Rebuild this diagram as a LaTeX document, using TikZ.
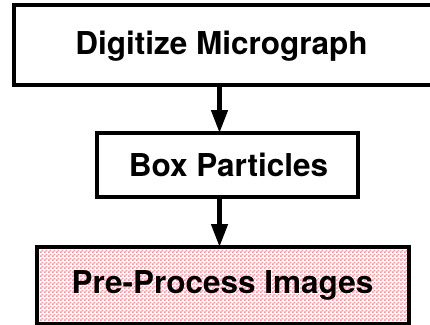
\documentclass[tikz,border=0pt]{standalone}
\usepackage{fontspec}
\setmainfont{TeX Gyre Heros}
\usetikzlibrary{arrows.meta,patterns}
\pgfdeclarepatternformonly{finechecks}{\pgfpointorigin}{\pgfqpoint{4pt}{4pt}}{\pgfqpoint{4pt}{4pt}}{%
  \pgfpathrectangle{\pgfpointorigin}{\pgfqpoint{2pt}{2pt}}%
  \pgfpathrectangle{\pgfqpoint{2pt}{2pt}}{\pgfqpoint{2pt}{2pt}}%
  \pgfusepath{fill}}
\definecolor{checkpink}{RGB}{255,145,155}
\tikzset{
  stagebox/.style={draw=black, line width=4pt, inner sep=0pt, outer sep=0pt},
  stagetext/.style={font=\fontsize{31.5}{36}\bfseries\selectfont, inner sep=0pt},
  flowarrow/.style={draw=black, line width=4.5pt, -{Triangle[width=16pt,length=23pt]}},
}
\begin{document}
\begin{tikzpicture}[x=1pt,y=-1pt]
\useasboundingbox (0,0) rectangle (430,324);
\clip (0,0) rectangle (430,324);
% box 1 (right side runs off the picture)
\node[stagebox, minimum width=426pt, minimum height=80pt] (b1) at (227,45) {};
\node[stagetext] (t1) at (221.5,46) {Digitize Micrograph};
% box 2
\node[stagebox, minimum width=261pt, minimum height=64pt] (b2) at (227.5,165) {};
\node[stagetext] (t2) at (228.5,165) {Box Particles};
% box 3
\node[stagebox, preaction={fill=white}, pattern=finechecks, pattern color=checkpink,
      minimum width=372pt, minimum height=77pt] (b3) at (223,285.5) {};
\node[stagetext] (t3) at (222.5,285) {Pre-Process Images};
% connectors
\coordinate (a1s) at (219.5,87);
\draw[flowarrow] (a1s) -- (a1s |- b2.north);
\draw[flowarrow] (a1s |- b2.south) -- (a1s |- b3.north);
\end{tikzpicture}
\end{document}
